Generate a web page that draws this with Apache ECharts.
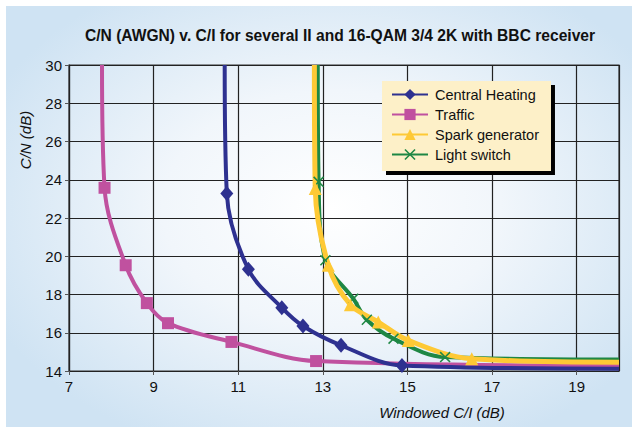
<!DOCTYPE html>
<html>
<head>
<meta charset="utf-8">
<script src="https://cdn.jsdelivr.net/npm/echarts@6/dist/echarts.min.js"></script>
<style>
  html, body { margin: 0; padding: 0; background: #ffffff; }
  #panel {
    position: absolute; left: 6px; top: 6px; width: 626px; height: 421px;
    background: radial-gradient(ellipse 60% 62% at 52% 48%, #ffffff 0%, #f1f6fb 45%, #cfe3f3 100%);
  }
  #chart { position: absolute; left: 0; top: 0; width: 632px; height: 427px; }
</style>
</head>
<body>
<div id="panel"></div>
<div id="chart"></div>
<script>
  // Windowed C/I (dB), C/N (dB) pairs
  const centralHeating = [[10.68, 30], [10.73, 23.28], [11.24, 19.32], [12.03, 17.31], [12.53, 16.35], [13.43, 15.34], [14.87, 14.29], [20, 14.12]];
  const traffic = [[7.78, 30], [7.84, 23.58], [8.34, 19.53], [8.84, 17.55], [9.34, 16.5], [10.84, 15.52], [12.84, 14.52], [20, 14.28]];
  const sparkGenerator = [[12.8, 30], [12.82, 23.54], [13.13, 19.53], [13.65, 17.47], [14.31, 16.56], [15.02, 15.6], [16.52, 14.64], [20, 14.46]];
  const lightSwitch = [[12.88, 30], [12.9, 23.89], [13.06, 19.79], [13.72, 17.78], [14.04, 16.68], [14.67, 15.69], [15.89, 14.73], [20, 14.6]];

  const xTicks = [7, 9, 11, 13, 15, 17, 19];
  const yTicks = [14, 16, 18, 20, 22, 24, 26, 28, 30];

  const FONT = "'Liberation Sans', Arial, sans-serif";
  const crossPath = "path://M0,1 L1,0 L5,4 L9,0 L10,1 L6,5 L10,9 L9,10 L5,6 L1,10 L0,9 L4,5 Z";

  // first and last points only shape the curve ends, no marker there
  function withMarkers(points) {
    return points.map((p, i) => {
      if (i === 0 || i === points.length - 1) {
        return { value: p, symbol: "none" };
      }
      return { value: p };
    });
  }

  function lineSeries(name, points, color, symbol, size, width) {
    return {
      name: name,
      type: "line",
      data: withMarkers(points),
      smooth: 0.35,
      symbol: symbol,
      symbolSize: size,
      showAllSymbol: true,
      lineStyle: { color: color, width: width },
      itemStyle: { color: color },
      emphasis: { disabled: true }
    };
  }

  const chart = echarts.init(document.getElementById("chart"), null, { renderer: "svg" });

  chart.setOption({
    backgroundColor: "transparent",
    animation: false,
    graphic: [
      {
        type: "text", x: 340, y: 35,
        style: {
          text: "C/N (AWGN) v. C/I for several II and 16-QAM 3/4 2K with BBC receiver",
          font: "bold 15.6px " + FONT, fill: "#111",
          align: "center", verticalAlign: "middle"
        }
      },
      {
        type: "text", x: 25, y: 140, rotation: Math.PI / 2,
        style: {
          text: "C/N (dB)", font: "italic 15px " + FONT, fill: "#111",
          align: "center", verticalAlign: "middle"
        }
      },
      {
        type: "text", x: 442, y: 412,
        style: {
          text: "Windowed C/I (dB)", font: "italic 15px " + FONT, fill: "#111",
          align: "center", verticalAlign: "middle"
        }
      }
    ],
    grid: {
      left: 69, top: 65, width: 550, height: 306,
      show: true, backgroundColor: "transparent",
      borderColor: "#333", borderWidth: 1.2
    },
    legend: {
      orient: "vertical",
      left: 382, top: 81,
      padding: [6, 12, 9, 9],
      itemGap: 5,
      itemWidth: 36, itemHeight: 14,
      backgroundColor: "#fdf0c8",
      shadowColor: "#000", shadowBlur: 0, shadowOffsetX: 4, shadowOffsetY: 4,
      textStyle: { fontFamily: FONT, fontSize: 14.5, color: "#111", padding: [0, 0, 0, 2] },
      data: ["Central Heating", "Traffic", "Spark generator", "Light switch"]
    },
    xAxis: {
      type: "value",
      min: 7, max: 20, interval: 2,
      axisLine: { show: true, lineStyle: { color: "#222", width: 1.2 } },
      axisTick: { show: true, length: 4, lineStyle: { color: "#555" } },
      splitLine: { show: true, lineStyle: { color: "#222", width: 1.2 } },
      axisLabel: {
        showMaxLabel: false, margin: 8,
        fontFamily: FONT, fontSize: 15, color: "#111",
        formatter: v => (xTicks.indexOf(v) >= 0 ? String(v) : "")
      }
    },
    yAxis: {
      type: "value",
      min: 14, max: 30, interval: 2,
      axisLine: { show: true, lineStyle: { color: "#222", width: 1.2 } },
      axisTick: { show: true, length: 4, lineStyle: { color: "#555" } },
      splitLine: { show: true, lineStyle: { color: "#222", width: 1.2 } },
      axisLabel: {
        margin: 7,
        fontFamily: FONT, fontSize: 15, color: "#111",
        formatter: v => (yTicks.indexOf(v) >= 0 ? String(v) : "")
      }
    },
    series: [
      lineSeries("Traffic", traffic, "#c0519f", "rect", 12, 4),
      lineSeries("Central Heating", centralHeating, "#2e3190", "diamond", [13, 15], 4),
      lineSeries("Light switch", lightSwitch, "#1e8744", crossPath, 11, 4),
      lineSeries("Spark generator", sparkGenerator, "#fec935", "triangle", 13, 5)
    ]
  });
</script>
</body>
</html>
